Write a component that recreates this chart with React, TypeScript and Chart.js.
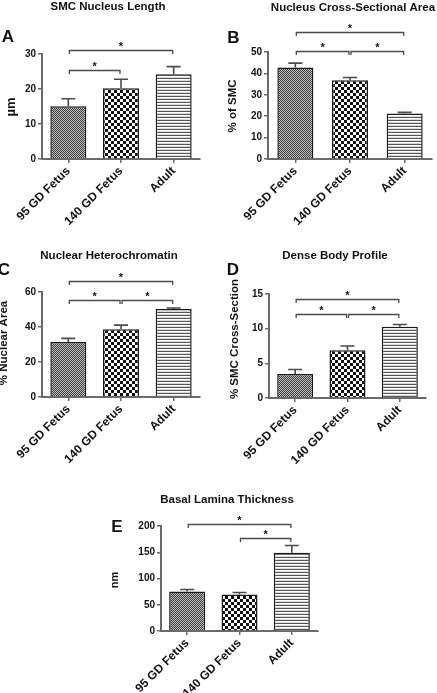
import React, { useEffect, useRef } from 'react';
import { Chart, registerables } from 'chart.js';

Chart.register(...registerables);

// ---------- data ----------
const categories = ['95 GD Fetus', '140 GD Fetus', 'Adult'];

const lengthMeans = [15.1, 20.2, 24.2];
const lengthErrors = [2.1, 2.6, 2.2];
const lengthTicks = [0, 10, 20, 30];
const lengthBrackets = [[0, 2, 31.1], [0, 1, 25.4]];

const areaMeans = [42.8, 36.8, 21.3];
const areaErrors = [2.0, 1.3, 0.5];
const areaTicks = [0, 10, 20, 30, 40, 50];
const areaBrackets = [[0, 2, 59.5], [0, 1, 50.4], [1, 2, 50.4]];

const heteroMeans = [31.4, 38.7, 50.3];
const heteroErrors = [2.1, 2.4, 0.6];
const heteroTicks = [0, 20, 40, 60];
const heteroBrackets = [[0, 2, 66.3], [0, 1, 55.4], [1, 2, 55.4]];

const denseMeans = [3.45, 6.9, 10.26];
const denseErrors = [0.65, 0.6, 0.35];
const denseTicks = [0, 5, 10, 15];
const denseBrackets = [[0, 2, 14.25], [0, 1, 12.1], [1, 2, 12.1]];

const laminaMeans = [75.2, 69.4, 149];
const laminaErrors = [3.8, 3.8, 14];
const laminaTicks = [0, 50, 100, 150, 200];
const laminaBrackets = [[0, 2, 204], [1, 2, 177]];

// ---------- style ----------
const FONT = "'Liberation Sans', Arial, Helvetica, sans-serif";
const AXIS = '#6a6a6a';
const Y_AXIS_W = 30;

type Box = { l: number; t: number; w: number; h: number };
type Area = { l: number; r: number; t: number; b: number };
type PanelDef = {
  title: string; titleX: number; titleY: number;
  letter: string; letterX: number; letterY: number;
  yTitle: string; yTitleX: number; yTitleY: number; yTitleSize: number;
  means: number[]; errors: number[]; ticks: number[]; brackets: number[][];
  box: Box; area: Area;
};

const panels: PanelDef[] = [
  {
    title: 'SMC Nucleus Length', titleX: 108, titleY: 6,
    letter: 'A', letterX: 8, letterY: 36,
    yTitle: 'µm', yTitleX: 11, yTitleY: 107, yTitleSize: 13,
    means: lengthMeans, errors: lengthErrors, ticks: lengthTicks, brackets: lengthBrackets,
    box: { l: 0, t: 0, w: 218, h: 225 }, area: { l: 42, r: 200, t: 54, b: 159 },
  },
  {
    title: 'Nucleus Cross-Sectional Area', titleX: 353, titleY: 6.5,
    letter: 'B', letterX: 233.5, letterY: 36.5,
    yTitle: '% of SMC', yTitleX: 233, yTitleY: 106, yTitleSize: 11.5,
    means: areaMeans, errors: areaErrors, ticks: areaTicks, brackets: areaBrackets,
    box: { l: 218, t: 0, w: 219, h: 225 }, area: { l: 268, r: 432, t: 52, b: 159 },
  },
  {
    title: 'Nuclear Heterochromatin', titleX: 109, titleY: 255,
    letter: 'C', letterX: 4, letterY: 269,
    yTitle: '% Nuclear Area', yTitleX: 4, yTitleY: 343, yTitleSize: 11.5,
    means: heteroMeans, errors: heteroErrors, ticks: heteroTicks, brackets: heteroBrackets,
    box: { l: 0, t: 225, w: 218, h: 240 }, area: { l: 42, r: 200, t: 292, b: 397 },
  },
  {
    title: 'Dense Body Profile', titleX: 335, titleY: 255,
    letter: 'D', letterX: 233, letterY: 269,
    yTitle: '% SMC Cross-Section', yTitleX: 235, yTitleY: 339, yTitleSize: 11.5,
    means: denseMeans, errors: denseErrors, ticks: denseTicks, brackets: denseBrackets,
    box: { l: 218, t: 225, w: 219, h: 240 }, area: { l: 269, r: 426, t: 294, b: 398 },
  },
  {
    title: 'Basal Lamina Thickness', titleX: 227, titleY: 499,
    letter: 'E', letterX: 117, letterY: 526,
    yTitle: 'nm', yTitleX: 115, yTitleY: 580, yTitleSize: 11,
    means: laminaMeans, errors: laminaErrors, ticks: laminaTicks, brackets: laminaBrackets,
    box: { l: 0, t: 455, w: 437, h: 238 }, area: { l: 161, r: 318, t: 526, b: 631 },
  },
];

function makeTiles(): HTMLCanvasElement[] {
  const mk = (w: number, h: number, draw: (g: CanvasRenderingContext2D) => void) => {
    const c = document.createElement('canvas');
    c.width = w; c.height = h;
    draw(c.getContext('2d') as CanvasRenderingContext2D);
    return c;
  };
  const fine = mk(2, 2, (g) => {
    g.fillStyle = '#c2c2c2'; g.fillRect(0, 0, 2, 2);
    g.fillStyle = '#3a3a3a'; g.fillRect(0, 0, 1, 1); g.fillRect(1, 1, 1, 1);
  });
  const checker = mk(6, 6, (g) => {
    g.fillStyle = '#ffffff'; g.fillRect(0, 0, 6, 6);
    g.fillStyle = '#111111'; g.fillRect(0, 0, 3, 3); g.fillRect(3, 3, 3, 3);
  });
  const lines = mk(1, 3, (g) => {
    g.fillStyle = '#ffffff'; g.fillRect(0, 0, 1, 3);
    g.fillStyle = '#555555'; g.fillRect(0, 0, 1, 1);
    g.fillStyle = '#dcdcdc'; g.fillRect(0, 2, 1, 1);
  });
  return [fine, checker, lines];
}

function makeDecor(p: PanelDef) {
  const ox = p.box.l, oy = p.box.t;
  return {
    id: 'decor' + p.letter,
    afterDatasetsDraw(chart: any) {
      const ctx: CanvasRenderingContext2D = chart.ctx;
      const ys = chart.scales.y;
      const xs = chart.scales.x;
      const meta = chart.getDatasetMeta(0);
      ctx.save();
      // error bars (upper SEM)
      ctx.strokeStyle = '#4a4a4a';
      ctx.lineWidth = 1.6;
      meta.data.forEach((bar: any, i: number) => {
        const x = bar.x;
        const yTop = bar.y;
        const yE = ys.getPixelForValue(p.means[i] + p.errors[i]);
        ctx.beginPath();
        ctx.moveTo(x, yTop);
        ctx.lineTo(x, yE);
        ctx.moveTo(x - 7, yE);
        ctx.lineTo(x + 7, yE);
        ctx.stroke();
      });
      // significance brackets
      ctx.strokeStyle = '#4a4a4a';
      ctx.lineWidth = 1.3;
      ctx.fillStyle = '#111';
      ctx.font = `bold 11px ${FONT}`;
      ctx.textAlign = 'center';
      ctx.textBaseline = 'alphabetic';
      p.brackets.forEach(([a, b, level]) => {
        const x1 = xs.getPixelForValue(a) + 1;
        const x2 = xs.getPixelForValue(b) - 1;
        const y = Math.round(ys.getPixelForValue(level)) + 0.5;
        ctx.beginPath();
        ctx.moveTo(x1, y + 3.5);
        ctx.lineTo(x1, y);
        ctx.lineTo(x2, y);
        ctx.lineTo(x2, y + 3.5);
        ctx.stroke();
        ctx.fillText('*', (x1 + x2) / 2, y - 0.5);
      });
      ctx.restore();
    },
    afterDraw(chart: any) {
      const ctx: CanvasRenderingContext2D = chart.ctx;
      ctx.save();
      ctx.fillStyle = '#111';
      // title
      ctx.font = `bold 11.5px ${FONT}`;
      ctx.textAlign = 'center';
      ctx.textBaseline = 'alphabetic';
      ctx.fillText(p.title, p.titleX - ox, p.titleY - oy + 11.5 * 0.36);
      // panel letter
      ctx.font = `bold 17px ${FONT}`;
      ctx.fillText(p.letter, p.letterX - ox, p.letterY - oy + 17 * 0.36);
      // y axis title
      ctx.translate(p.yTitleX - ox, p.yTitleY - oy);
      ctx.rotate(-Math.PI / 2);
      ctx.font = `bold ${p.yTitleSize}px ${FONT}`;
      ctx.textBaseline = 'middle';
      ctx.fillText(p.yTitle, 0, 0);
      ctx.restore();
    },
  };
}

function Panel({ p, tiles }: { p: PanelDef; tiles: HTMLCanvasElement[] }) {
  const ref = useRef<HTMLCanvasElement | null>(null);
  useEffect(() => {
    const canvas = ref.current;
    if (!canvas) return;
    const ctx = canvas.getContext('2d') as CanvasRenderingContext2D;
    const fills = tiles.map((t) => ctx.createPattern(t, 'repeat'));
    const catW = (p.area.r - p.area.l) / categories.length;
    const xAxisH = p.box.t + p.box.h - p.area.b;
    const pad = {
      left: p.area.l - p.box.l - Y_AXIS_W,
      right: p.box.l + p.box.w - p.area.r,
      top: p.area.t - p.box.t,
      bottom: 0,
    };
    const tickFont = { family: FONT, size: 10, weight: 'bold' as const };
    const chart = new Chart(canvas, {
      type: 'bar',
      data: {
        labels: categories,
        datasets: [
          {
            data: p.means,
            backgroundColor: fills as any,
            borderColor: '#1a1a1a',
            borderWidth: 1.5,
            categoryPercentage: 1,
            barPercentage: 36 / catW,
          },
        ],
      },
      options: {
        responsive: false,
        maintainAspectRatio: false,
        animation: false,
        layout: { padding: pad },
        plugins: {
          legend: { display: false },
          tooltip: { enabled: false },
          title: { display: false },
        },
        scales: {
          x: {
            type: 'category',
            offset: true,
            grid: {
              display: true,
              drawOnChartArea: false,
              drawTicks: true,
              tickLength: 4,
              offset: false,
              color: AXIS,
              lineWidth: 1.5,
            },
            border: { display: true, color: AXIS, width: 2 },
            ticks: {
              font: { family: FONT, size: 12, weight: 'bold' },
              color: '#111',
              minRotation: 45,
              maxRotation: 45,
              autoSkip: false,
              padding: 1,
            },
            afterFit: (s: any) => { s.height = xAxisH; },
          },
          y: {
            type: 'linear',
            min: p.ticks[0],
            max: p.ticks[p.ticks.length - 1],
            ticks: {
              stepSize: p.ticks[1] - p.ticks[0],
              font: tickFont,
              color: '#111',
              padding: 2,
            },
            grid: {
              drawOnChartArea: false,
              drawTicks: true,
              tickLength: 4,
              color: AXIS,
              lineWidth: 1.5,
            },
            border: { display: true, color: AXIS, width: 2 },
            afterFit: (s: any) => { s.width = Y_AXIS_W; },
          },
        },
      },
      plugins: [makeDecor(p)],
    } as any);
    return () => chart.destroy();
  }, [p, tiles]);
  return (
    <canvas
      ref={ref}
      width={p.box.w}
      height={p.box.h}
      style={{ position: 'absolute', left: p.box.l, top: p.box.t, width: p.box.w, height: p.box.h }}
    />
  );
}

export default function App() {
  const tilesRef = useRef<HTMLCanvasElement[] | null>(null);
  if (!tilesRef.current && typeof document !== 'undefined') tilesRef.current = makeTiles();
  const tiles = tilesRef.current as HTMLCanvasElement[];
  return (
    <div style={{ position: 'absolute', left: 0, top: 0, width: 437, height: 693, background: '#fff', overflow: 'hidden' }}>
      {panels.map((p) => (
        <Panel key={p.letter} p={p} tiles={tiles} />
      ))}
    </div>
  );
}
